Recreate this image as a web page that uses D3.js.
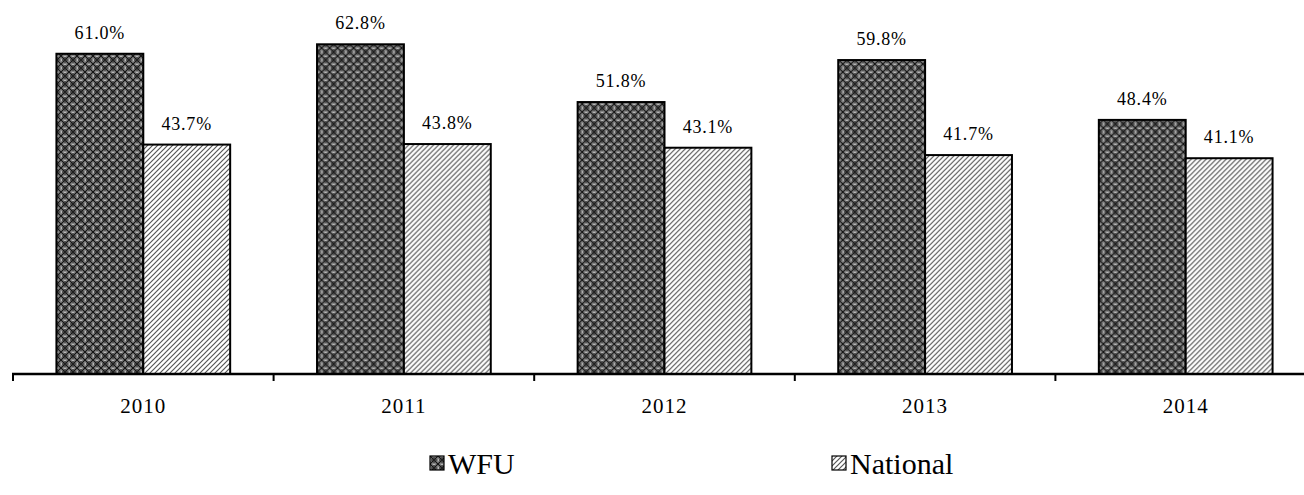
<!DOCTYPE html>
<html>
<head>
<meta charset="utf-8">
<script src="https://cdn.jsdelivr.net/npm/d3@7"></script>
<style>
  body { margin: 0; background: #fff; }
</style>
</head>
<body>
<div class="container"></div>
<script>
var years = ["2010", "2011", "2012", "2013", "2014"];
var series = ["WFU", "National"];
var wfu = [61.0, 62.8, 51.8, 59.8, 48.4];
var national = [43.7, 43.8, 43.1, 41.7, 41.1];

var width = 1304;
var height = 495;
var serif = "'Times New Roman', 'Liberation Serif', Times, serif";

var svg = d3.select(".container")
  .append("svg")
    .attr("width", width)
    .attr("height", height);

var defs = svg.append("defs");

// dark woven pattern for WFU
var p1 = defs.append("pattern")
    .attr("id", "pat-wfu")
    .attr("patternUnits", "userSpaceOnUse")
    .attr("width", 8).attr("height", 8);
p1.append("rect").attr("width", 8).attr("height", 8).attr("fill", "#858585");
p1.append("path")
    .attr("d", "M0,0L8,8M8,0L0,8")
    .attr("stroke", "#111").attr("stroke-width", 1.2);
p1.append("path")
    .attr("d", "M4,1V7M1,4H7")
    .attr("stroke", "#222").attr("stroke-width", 1);
p1.append("rect").attr("x", 0).attr("y", 3.5).attr("width", 1).attr("height", 1).attr("fill", "#eee");
p1.append("rect").attr("x", 3.5).attr("y", 0).attr("width", 1).attr("height", 1).attr("fill", "#eee");

// diagonal hatch for National
var p2 = defs.append("pattern")
    .attr("id", "pat-nat")
    .attr("patternUnits", "userSpaceOnUse")
    .attr("width", 5).attr("height", 5);
p2.append("rect").attr("width", 5).attr("height", 5).attr("fill", "#fff");
p2.append("path")
    .attr("d", "M-1,6L6,-1M-1,1L1,-1M4,6L6,4")
    .attr("stroke", "#555").attr("stroke-width", 1.2);

var fills = {WFU: "url(#pat-wfu)", National: "url(#pat-nat)"};

var x = d3.scaleBand()
    .domain(years)
    .range([13, 1316]);

var x1 = d3.scaleBand()
    .domain(series)
    .range([0, x.bandwidth()])
    .paddingOuter(0.5);

var y = d3.scaleLinear()
    .domain([0, 70])
    .range([374, 374 - 70 * 5.25]);

var rows = years.map(function(yr, i) {
  return {year: yr, values: [
    {key: "WFU", value: wfu[i]},
    {key: "National", value: national[i]}
  ]};
});

var groups = svg.append("g")
  .selectAll("g")
  .data(rows)
  .enter()
  .append("g")
    .attr("transform", function(d) { return "translate(" + x(d.year) + ",0)"; });

groups.selectAll("rect")
  .data(function(d) { return d.values; })
  .enter()
  .append("rect")
    .attr("x", function(d) { return x1(d.key); })
    .attr("y", function(d) { return y(d.value); })
    .attr("width", x1.bandwidth())
    .attr("height", function(d) { return y(0) - y(d.value); })
    .attr("fill", function(d) { return fills[d.key]; })
    .attr("stroke", "#000")
    .attr("stroke-width", 2);

groups.selectAll("text")
  .data(function(d) { return d.values; })
  .enter()
  .append("text")
    .attr("x", function(d) { return x1(d.key) + x1.bandwidth() / 2; })
    .attr("y", function(d) { return y(d.value) - 15; })
    .attr("text-anchor", "middle")
    .style("font-family", serif)
    .style("font-size", "18px")
    .style("letter-spacing", "0.8px")
    .text(function(d) { return d.value.toFixed(1) + "%"; });

// x axis
var axis = svg.append("g")
    .attr("transform", "translate(0," + y(0) + ")")
    .call(d3.axisBottom(x).tickSize(0).tickPadding(24));
axis.select(".domain").remove();
axis.selectAll("text")
    .attr("fill", "#000")
    .style("font-family", serif)
    .style("font-size", "21px")
    .style("letter-spacing", "1px");

axis.append("line")
    .attr("x1", 12).attr("x2", width)
    .attr("y1", 0).attr("y2", 0)
    .attr("stroke", "#000").attr("stroke-width", 2.5);

axis.selectAll(".bound")
  .data(years)
  .enter()
  .append("line")
    .attr("class", "bound")
    .attr("x1", function(d) { return x(d); })
    .attr("x2", function(d) { return x(d); })
    .attr("y1", 0).attr("y2", 7)
    .attr("stroke", "#000").attr("stroke-width", 2);

// legend
var legendX = [430, 832];
var legend = svg.append("g")
  .selectAll("g")
  .data(series)
  .enter()
  .append("g")
    .attr("transform", function(d, i) { return "translate(" + legendX[i] + ",456)"; });

legend.append("rect")
    .attr("width", 14).attr("height", 14)
    .attr("fill", function(d) { return fills[d]; })
    .attr("stroke", "#000")
    .attr("stroke-width", 1.2);

legend.append("text")
    .attr("x", 18)
    .attr("y", 18)
    .style("font-family", serif)
    .style("font-size", "30px")
    .text(function(d) { return d; });
</script>
</body>
</html>
